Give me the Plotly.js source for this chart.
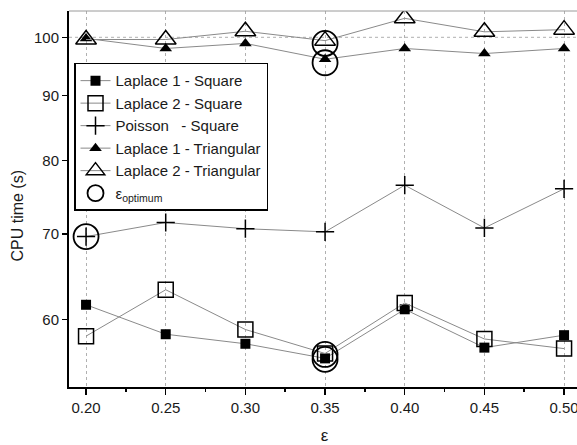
<!DOCTYPE html>
<html><head><meta charset="utf-8">
<script src="https://cdn.plot.ly/plotly-3.0.1.min.js"></script>
<style>html,body{margin:0;padding:0;overflow:hidden;background:#fff}</style>
</head><body><div id="chart" style="width:600px;height:445px"></div>
<script>
const epsilon = [0.20, 0.25, 0.30, 0.35, 0.40, 0.45, 0.50];
const laplace1Square = [61.6, 58.4, 57.4, 55.9, 61.1, 57.0, 58.3];
const laplace2Square = [58.2, 63.3, 58.9, 56.4, 61.8, 57.9, 56.9];
const poissonSquare = [69.7, 71.5, 70.7, 70.3, 76.5, 70.8, 76.0];
const laplace1Tri = [99.8, 98.0, 98.9, 96.1, 98.0, 97.1, 98.0];
const laplace2Tri = [99.6, 99.6, 101.1, 99.4, 103.5, 101.0, 101.4];
const optimumEps = [0.20, 0.35, 0.35, 0.35, 0.35];
const optimumCpu = [69.7, 98.9, 95.5, 56.3, 55.8];
const yTicks = [60, 70, 80, 90, 100];
const names = ['Laplace 1 - Square', 'Laplace 2 - Square', 'Poisson\u00A0\u00A0\u00A0- Square',
               'Laplace 1 - Triangular', 'Laplace 2 - Triangular', '\u03B5<sub>optimum</sub>'];

const lineStyle = {color: '#8a8a8a', width: 1};
function series(y, name, symbol, size, lw) {
  return {x: epsilon, y: y, name: name, type: 'scatter', mode: 'lines+markers',
    line: lineStyle,
    marker: {symbol: symbol, size: size, color: '#000', line: {color: '#000', width: lw}}};
}
const traces = [
  series(laplace1Square, names[0], 'square', 10, 0),
  series(laplace2Square, names[1], 'square-open', 15, 1.5),
  series(poissonSquare, names[2], 'cross-thin-open', 13, 1.5),
  series(laplace1Tri, names[3], 'triangle-up', 11, 0),
  series(laplace2Tri, names[4], 'triangle-up-open', 18, 1.5),
  {x: optimumEps, y: optimumCpu, name: names[5], type: 'scatter', mode: 'markers',
   marker: {symbol: 'circle-open', size: 25, color: '#000', line: {color: '#000', width: 1.8}}}
];

const font = {family: 'Liberation Sans, Arial, sans-serif', color: '#1a1a1a'};
const layout = {
  width: 600, height: 445,
  margin: {l: 69, r: 20, t: 11, b: 58},
  paper_bgcolor: '#fff', plot_bgcolor: '#fff',
  font: Object.assign({size: 15}, font),
  showlegend: true,
  legend: {x: 0.0098, y: 0.862, xanchor: 'left', yanchor: 'top',
    bgcolor: '#fff', bordercolor: '#000', borderwidth: 1.5,
    entrywidth: 190, entrywidthmode: 'pixels',
    font: Object.assign({size: 15}, font), itemsizing: 'trace', traceorder: 'normal'},
  xaxis: {range: [0.1893, 0.51], tick0: 0.2, dtick: 0.05, tickformat: '.2f',
    showline: true, linecolor: '#000', linewidth: 2,
    ticks: 'outside', ticklen: 6, tickwidth: 1.5, tickcolor: '#000',
    minor: {dtick: 0.025, tick0: 0.2, ticks: 'outside', ticklen: 3, tickwidth: 1.5, tickcolor: '#000', showgrid: false},
    showgrid: true, gridcolor: '#b0b0b0', griddash: 'dot', gridwidth: 1,
    zeroline: false, tickfont: Object.assign({size: 15}, font),
    title: {text: '\u03B5', font: Object.assign({size: 17}, font), standoff: 15}},
  yaxis: {type: 'log', range: [1.7249, 2.0207], tickvals: yTicks, ticktext: yTicks.map(String),
    showline: true, linecolor: '#000', linewidth: 2,
    ticks: 'outside', ticklen: 5, tickwidth: 1.5, tickcolor: '#000',
    showgrid: false, zeroline: false, tickfont: Object.assign({size: 15}, font)},
  annotations: [
    {text: 'CPU time (s)', textangle: -90, xref: 'paper', yref: 'paper',
     x: -0.0998, y: 0.456, xanchor: 'center', yanchor: 'middle', showarrow: false,
     font: Object.assign({size: 16}, font)}
  ],
  shapes: [
    {type: 'line', xref: 'paper', x0: 0, x1: 1, yref: 'y', y0: 100, y1: 100,
     line: {color: '#b0b0b0', width: 1, dash: 'dot'}, layer: 'below'},
    {type: 'line', xref: 'paper', x0: 0, x1: 1, yref: 'paper', y0: 1, y1: 1,
     line: {color: '#9a9a9a', width: 1}}
  ]
};
Plotly.newPlot('chart', traces, layout, {displayModeBar: false, staticPlot: true});
</script></body></html>
